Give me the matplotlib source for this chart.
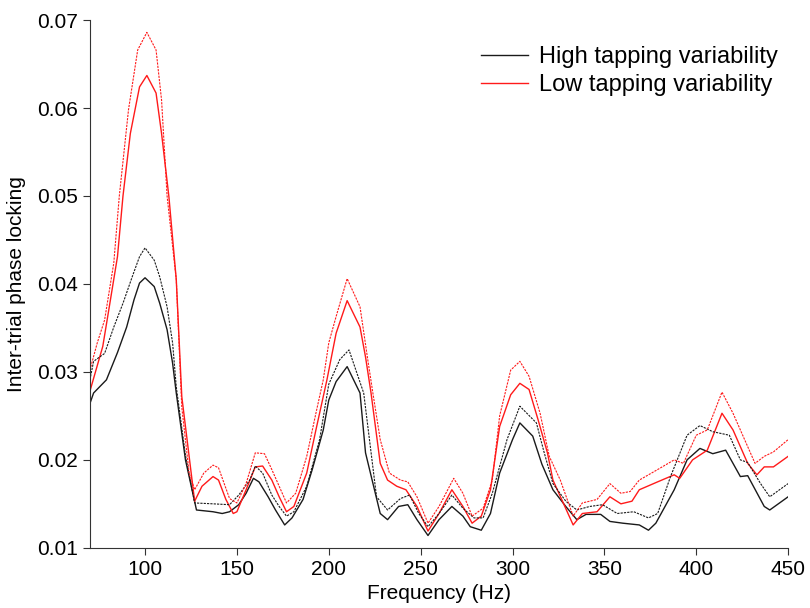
import matplotlib.pyplot as plt

plt.rcParams['font.family'] = ['Liberation Sans', 'DejaVu Sans']

# high tapping variability, solid
high_f = [70, 72, 79, 85, 90, 94, 97, 100, 105, 108, 112, 115, 117, 122, 128, 137, 142, 146,
          151, 155, 159, 162, 167, 171, 176, 180, 186, 191, 197, 200, 204, 210, 217, 220,
          228, 232, 238, 243, 248, 254, 260, 267, 273, 277, 283, 288, 293, 300, 304, 311,
          316, 322, 329, 335, 340, 348, 353, 360, 369, 374, 378, 388, 395, 402, 409, 416,
          424, 428, 437, 440, 450]
high_v = [0.0264, 0.0276, 0.0291, 0.0322, 0.0351, 0.0382, 0.0401, 0.0407, 0.0397, 0.0378,
          0.0348, 0.0310, 0.0276, 0.0200, 0.0143, 0.0141, 0.0139, 0.0141, 0.0149, 0.0162,
          0.0179, 0.0175, 0.0158, 0.0143, 0.0126, 0.0134, 0.0155, 0.0189, 0.0234, 0.0268,
          0.0289, 0.0306, 0.0276, 0.0208, 0.0139, 0.0132, 0.0147, 0.0149, 0.0132, 0.0114,
          0.0132, 0.0147, 0.0136, 0.0124, 0.0120, 0.0139, 0.0185, 0.0223, 0.0242, 0.0227,
          0.0195, 0.0166, 0.0147, 0.0132, 0.0138, 0.0138, 0.0130, 0.0128, 0.0126, 0.0120,
          0.0128, 0.0166, 0.0200, 0.0213, 0.0207, 0.0211, 0.0181, 0.0182, 0.0147, 0.0143,
          0.0158]

# high tapping variability, dashed
high_d_f = [70, 72, 78, 83, 88, 93, 97, 100, 105, 108, 112, 115, 117, 122, 127, 137, 146,
            151, 157, 160, 164, 169, 173, 177, 181, 188, 195, 200, 206, 211, 219, 226, 232,
            239, 244, 249, 254, 260, 267, 273, 279, 284, 289, 297, 304, 313, 317, 322, 329,
            335, 342, 349, 357, 366, 374, 379, 386, 395, 402, 409, 418, 424, 428, 435, 440,
            450]
high_d_v = [0.0291, 0.0312, 0.0321, 0.0351, 0.0378, 0.0408, 0.0431, 0.0441, 0.0427, 0.0408,
            0.0374, 0.0333, 0.0283, 0.0205, 0.0151, 0.0150, 0.0149, 0.0160, 0.0177, 0.0193,
            0.0185, 0.0160, 0.0147, 0.0136, 0.0141, 0.0170, 0.0223, 0.0286, 0.0314, 0.0325,
            0.0276, 0.0158, 0.0143, 0.0156, 0.0160, 0.0139, 0.0124, 0.0139, 0.0160, 0.0145,
            0.0134, 0.0134, 0.0162, 0.0223, 0.0261, 0.0242, 0.0210, 0.0173, 0.0153, 0.0143,
            0.0147, 0.0149, 0.0139, 0.0141, 0.0134, 0.0139, 0.0181, 0.0228, 0.0239, 0.0232,
            0.0228, 0.0200, 0.0197, 0.0173, 0.0158, 0.0173]

# low tapping variability, solid
low_f = [70, 77, 80, 85, 88, 92, 97, 101, 106, 109, 113, 117, 120, 127, 131, 137, 140, 144,
         148, 150, 155, 160, 164, 169, 173, 177, 181, 188, 193, 199, 204, 210, 217, 220, 223,
         228, 232, 237, 242, 248, 254, 260, 267, 273, 278, 283, 288, 293, 299, 304, 309, 314,
         319, 322, 333, 338, 346, 353, 359, 365, 369, 379, 388, 391, 398, 406, 414, 420, 428,
         433, 437, 442, 450]
low_v = [0.0278, 0.0329, 0.0367, 0.0431, 0.0500, 0.0571, 0.0624, 0.0637, 0.0617, 0.0571,
         0.0499, 0.0405, 0.0272, 0.0153, 0.0170, 0.0181, 0.0177, 0.0155, 0.0139, 0.0141,
         0.0166, 0.0192, 0.0193, 0.0177, 0.0158, 0.0141, 0.0147, 0.0185, 0.0234, 0.0291,
         0.0344, 0.0381, 0.0351, 0.0317, 0.0276, 0.0196, 0.0177, 0.0170, 0.0166, 0.0147,
         0.0119, 0.0139, 0.0166, 0.0147, 0.0128, 0.0136, 0.0166, 0.0238, 0.0274, 0.0287,
         0.0280, 0.0245, 0.0208, 0.0177, 0.0126, 0.0139, 0.0141, 0.0158, 0.0150, 0.0153,
         0.0166, 0.0175, 0.0183, 0.0179, 0.0200, 0.0211, 0.0253, 0.0234, 0.0196, 0.0183,
         0.0192, 0.0192, 0.0204]

# low tapping variability, dashed
low_d_f = [70, 74, 78, 83, 86, 91, 96, 101, 106, 109, 112, 117, 120, 124, 127, 132, 137, 140,
           146, 150, 155, 160, 165, 169, 173, 177, 182, 188, 193, 197, 200, 204, 210, 217, 221,
           224, 228, 233, 239, 243, 248, 254, 260, 268, 273, 278, 284, 289, 293, 299, 304,
           309, 315, 320, 326, 333, 338, 346, 353, 359, 364, 369, 379, 388, 393, 400, 406,
           414, 420, 428, 432, 437, 442, 450]
low_d_v = [0.0302, 0.0333, 0.0359, 0.0424, 0.0500, 0.0598, 0.0666, 0.0686, 0.0666, 0.0609,
           0.0500, 0.0405, 0.0260, 0.0185, 0.0166, 0.0185, 0.0194, 0.0191, 0.0156, 0.0151,
           0.0173, 0.0208, 0.0207, 0.0189, 0.0170, 0.0151, 0.0162, 0.0204, 0.0253, 0.0291,
           0.0333, 0.0363, 0.0406, 0.0374, 0.0317, 0.0276, 0.0223, 0.0185, 0.0177, 0.0175,
           0.0158, 0.0128, 0.0147, 0.0179, 0.0162, 0.0136, 0.0145, 0.0177, 0.0250, 0.0302,
           0.0312, 0.0295, 0.0253, 0.0204, 0.0177, 0.0136, 0.0151, 0.0155, 0.0173, 0.0162,
           0.0164, 0.0177, 0.0189, 0.0200, 0.0196, 0.0228, 0.0234, 0.0277, 0.0253, 0.0215,
           0.0196, 0.0204, 0.0209, 0.0223]

x_ticks = [100, 150, 200, 250, 300, 350, 400, 450]
y_ticks = [0.01, 0.02, 0.03, 0.04, 0.05, 0.06, 0.07]

fig = plt.figure(figsize=(8.1, 6.08), dpi=100)
ax = fig.add_axes([0.111, 0.099, 0.862, 0.868])

black = '#1a1a1a'
red = '#ff1a1a'
ax.plot(high_f, high_v, color=black, lw=1.0, label='High tapping variability')
ax.plot(low_f, low_v, color=red, lw=1.0, label='Low tapping variability')
ax.plot(high_d_f, high_d_v, color=black, lw=0.8, dashes=(2, 1))
ax.plot(low_d_f, low_d_v, color=red, lw=0.8, dashes=(2, 1))

ax.set_xlim(70, 450)
ax.set_ylim(0.01, 0.07)
ax.set_xticks(x_ticks)
ax.set_yticks(y_ticks)
ax.set_yticklabels([f'{v:.2f}' for v in y_ticks])
ax.spines['top'].set_visible(False)
ax.spines['right'].set_visible(False)
ax.spines['left'].set_color('#333333')
ax.spines['bottom'].set_color('#333333')
ax.tick_params(direction='out', length=5, labelsize=15, color='#333333')
ax.set_xlabel('Frequency (Hz)', fontsize=15, labelpad=4)
ax.set_ylabel('Inter-trial phase locking', fontsize=15, labelpad=8)

ax.legend(loc='upper right', bbox_to_anchor=(0.985, 0.95), frameon=False, fontsize=17,
          borderaxespad=0, borderpad=0, handlelength=2.0, handletextpad=0.45,
          labelspacing=0.25)

fig.savefig('out.png', dpi=100)
